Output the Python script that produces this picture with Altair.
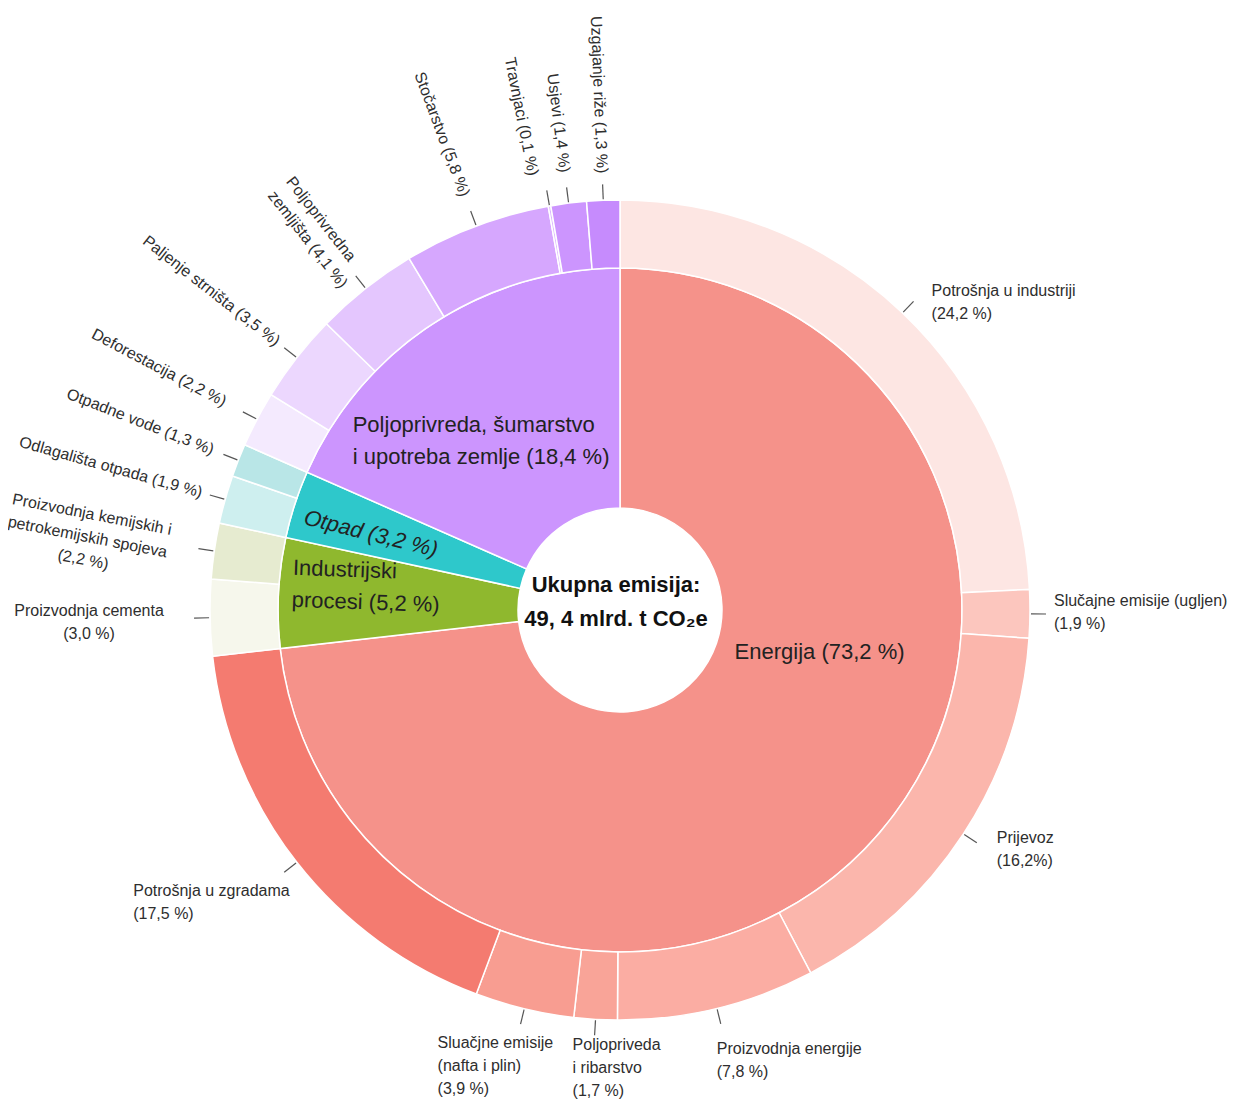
import math
import altair as alt
import pandas as pd

# ---------------- data ----------------
sector_names = ["Energija", "Industrijski procesi", "Otpad",
                "Poljoprivreda, šumarstvo i upotreba zemlje"]
sector_values = [73.2, 5.2, 3.2, 18.4]
sector_labels = ["Energija (73,2 %)", "Industrijski\nprocesi (5,2 %)", "Otpad (3,2 %)",
                 "Poljoprivreda, šumarstvo\ni upotreba zemlje (18,4 %)"]

sub_names = ["Potrošnja u industriji", "Slučajne emisije (ugljen)", "Prijevoz",
             "Proizvodnja energije", "Poljoprivreda i ribarstvo",
             "Slučajne emisije (nafta i plin)", "Potrošnja u zgradama",
             "Proizvodnja cementa", "Proizvodnja kemijskih i petrokemijskih spojeva",
             "Odlagališta otpada", "Otpadne vode",
             "Deforestacija", "Paljenje strništa", "Poljoprivredna zemljišta",
             "Stočarstvo", "Travnjaci", "Usjevi", "Uzgajanje riže"]
sub_values = [24.2, 1.9, 16.2, 7.8, 1.7, 3.9, 17.5,
              3.0, 2.2,
              1.9, 1.3,
              2.2, 3.5, 4.1, 5.8, 0.1, 1.4, 1.3]
sub_labels = ["Potrošnja u industriji\n(24,2 %)",
              "Slučajne emisije (ugljen)\n(1,9 %)",
              "Prijevoz\n(16,2%)",
              "Proizvodnja energije\n(7,8 %)",
              "Poljopriveda\ni ribarstvo\n(1,7 %)",
              "Sluačjne emisije\n(nafta i plin)\n(3,9 %)",
              "Potrošnja u zgradama\n(17,5 %)",
              "Proizvodnja cementa\n(3,0 %)",
              "Proizvodnja kemijskih i\npetrokemijskih spojeva\n(2,2 %)",
              "Odlagališta otpada (1,9 %)",
              "Otpadne vode (1,3 %)",
              "Deforestacija (2,2 %)",
              "Paljenje strništa (3,5 %)",
              "Poljoprivredna\nzemljišta (4,1 %)",
              "Stočarstvo (5,8 %)",
              "Travnjaci (0,1 %)",
              "Usjevi (1,4 %)",
              "Uzgajanje riže (1,3 %)"]

center_text = "Ukupna emisija:\n49, 4 mlrd. t CO₂e"

# ---------------- styles ----------------
sector_colors = ["#f5928a", "#8fb82e", "#2ec8cb", "#cc95fe"]
sub_colors = ["#fde6e3", "#fcc6be", "#fbb6ac", "#fbada3", "#f9a498", "#f89d91", "#f47b70",
              "#f6f7ec", "#e6ebd0",
              "#ceefef", "#b9e6e7",
              "#f4eafe", "#ecd7fe", "#e4c6fe", "#d6a7fe", "#dcb6fe", "#cc95fe", "#c68bfd"]

# label placement: (mode, align, angle / angle nudge, offset from leader end / text radius)
label_style = {
    "Potrošnja u industriji": ("flat", "left", 0, (18, -18)),
    "Slučajne emisije (ugljen)": ("flat", "left", 0, (8, -21)),
    "Prijevoz": ("flat", "left", 0, (20, -13)),
    "Proizvodnja energije": ("flat", "left", 0, (-4, 17)),
    "Poljoprivreda i ribarstvo": ("flat", "left", 0, (-22, 2)),
    "Slučajne emisije (nafta i plin)": ("flat", "left", 0, (-83, 11)),
    "Potrošnja u zgradama": ("flat", "left", 0, (-151, 11)),
    "Proizvodnja cementa": ("flat", "center", 0, (-105, -15)),
    "Proizvodnja kemijskih i petrokemijskih spojeva": ("flat", "center", 11, (-105, -42)),
    "Odlagališta otpada": ("radial", "right", 0, 434),
    "Otpadne vode": ("radial", "right", 0, 437),
    "Deforestacija": ("radial", "right", 0, 446),
    "Paljenje strništa": ("radial", "right", 0, 434),
    "Poljoprivredna zemljišta": ("flat", "left", 52, (-60, -102)),
    "Stočarstvo": ("radial", "right", 0, 442),
    "Travnjaci": ("radial", "right", -1.4, 443),
    "Usjevi": ("radial", "right", 0, 441),
    "Uzgajanje riže": ("radial", "right", 0, 437),
}
inner_style = {  # angle, offset from mid point at R_INL, italic
    "Energija": (0, (-51, -116), False),
    "Industrijski procesi": (2, (-105, -41), False),
    "Otpad": (14, (-102, -34), True),
    "Poljoprivreda, šumarstvo i upotreba zemlje": (0, (-146, -9), False),
}

W, H = 1220, 1091
M = 8
CX, CY = 620, 610
R_HOLE, R_MID, R_OUT = 102, 342, 410
R_T1, R_T2 = 411, 426
R_INL = 222
FONT = "Liberation Sans, Arial, sans-serif"
LBL = "#2e2e2e"
FS_OUT, LH_OUT = 16, 23
FS_IN, LH_IN = 22, 32

xs = alt.Scale(domain=[M, M + W], range=[0, W])
ys = alt.Scale(domain=[M, M + H], range=[0, H])


def polar(r, deg):
    t = math.radians(deg)
    return CX + r * math.sin(t), CY - r * math.cos(t)


# ---------------- tables ----------------
inner_df = pd.DataFrame({"name": sector_names, "value": sector_values,
                         "color": sector_colors, "order": range(len(sector_names))})
outer_df = pd.DataFrame({"name": sub_names, "value": sub_values,
                         "color": sub_colors, "order": range(len(sub_names))})

tot = sum(sub_values)
rows_tick, rows_lab = [], []
cum = 0.0
for name, v, lab in zip(sub_names, sub_values, sub_labels):
    mid = (cum + v / 2) / tot * 360.0
    cum += v
    x1, y1 = polar(R_T1, mid)
    x2, y2 = polar(R_T2, mid)
    rows_tick.append({"x": x1, "y": y1, "x2": x2, "y2": y2})
    mode, align, p, q = label_style[name]
    if mode == "radial":
        a = mid + p
        lx, ly = polar(q, a)
        rows_lab.append({"mode": "radial", "label": lab, "lx": lx, "ly": ly, "ang": a - 270})
    else:
        rows_lab.append({"mode": "flat_" + align, "label": lab, "lx": x2 + q[0],
                         "ly": y2 + q[1], "ang": p})
tick_df = pd.DataFrame(rows_tick)
lab_df = pd.DataFrame(rows_lab)

rows_in = []
cum = 0.0
stot = sum(sector_values)
for name, v, lab in zip(sector_names, sector_values, sector_labels):
    mid = (cum + v / 2) / stot * 360.0
    cum += v
    mx, my = polar(R_INL, mid)
    ang, off, it = inner_style[name]
    rows_in.append({"label": lab, "lx": mx + off[0], "ly": my + off[1], "ang": ang, "italic": it})
inlab_df = pd.DataFrame(rows_in)
center_df = pd.DataFrame({"label": [center_text], "lx": [CX - 4], "ly": [575]})

# ---------------- layers ----------------
arc_enc = dict(theta=alt.Theta("value:Q", stack=True),
               order=alt.Order("order:Q"),
               color=alt.Color("color:N", scale=None),
               x=alt.value(CX - M), y=alt.value(CY - M))

inner = alt.Chart(inner_df).mark_arc(radius=R_MID, radius2=R_HOLE, stroke="white",
                                     strokeWidth=1.5).encode(**arc_enc)
outer = alt.Chart(outer_df).mark_arc(radius=R_OUT, radius2=R_MID, stroke="white",
                                     strokeWidth=1.5).encode(**arc_enc)

ticks = alt.Chart(tick_df).mark_rule(color="#555555", strokeWidth=1.2).encode(
    x=alt.X("x:Q", scale=xs, axis=None), y=alt.Y("y:Q", scale=ys, axis=None),
    x2="x2:Q", y2="y2:Q")


def text_layer(df, align, baseline, size, lh, color=LBL, **kw):
    return alt.Chart(df).mark_text(align=align, baseline=baseline, font=FONT, fontSize=size,
                                   lineHeight=lh, lineBreak="\n", color=color, **kw).encode(
        x=alt.X("lx:Q", scale=xs, axis=None), y=alt.Y("ly:Q", scale=ys, axis=None),
        text="label:N", angle=alt.Angle("ang:Q", scale=None))


layers = [inner, outer, ticks]
for mode, align, baseline in [("flat_left", "left", "top"), ("flat_center", "center", "top"),
                              ("radial", "right", "middle")]:
    sub = lab_df[lab_df["mode"] == mode]
    if len(sub):
        layers.append(text_layer(sub, align, baseline, FS_OUT, LH_OUT))

layers.append(text_layer(inlab_df[~inlab_df["italic"]], "left", "top", FS_IN, LH_IN,
                         color="#222222"))
layers.append(text_layer(inlab_df[inlab_df["italic"]], "left", "top", FS_IN, LH_IN,
                         color="#222222", fontStyle="italic"))
center = alt.Chart(center_df).mark_text(align="center", baseline="top", font=FONT, fontSize=22,
                                        fontWeight="bold", lineHeight=34, lineBreak="\n",
                                        color="#111111").encode(
    x=alt.X("lx:Q", scale=xs, axis=None), y=alt.Y("ly:Q", scale=ys, axis=None), text="label:N")
layers.append(center)

chart = alt.layer(*layers).properties(width=W, height=H, padding=0, autosize="none",
                                      background="white").configure_view(stroke=None)

chart.save("out.html", embed_options={"renderer": "svg", "actions": False})
